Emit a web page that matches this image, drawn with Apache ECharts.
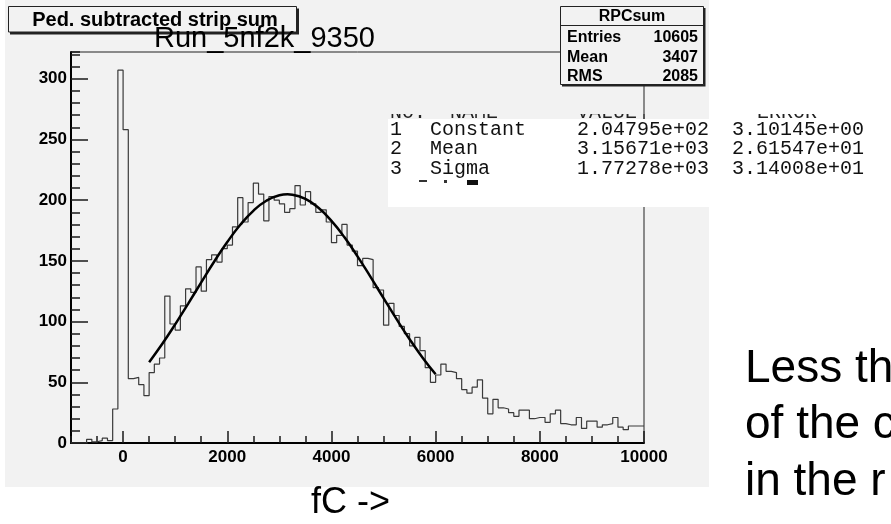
<!DOCTYPE html>
<html><head><meta charset="utf-8">
<script src="https://cdn.jsdelivr.net/npm/echarts@6/dist/echarts.min.js"></script>
<style>html,body{margin:0;padding:0;background:#fff}#c{width:891px;height:524px}</style>
</head><body><div id="c"></div>
<script>
// ---- data ----
const binStart = -1000;
const binWidth = 100;
const counts = [
  0, 0, 0, 3, 1, 2, 4, 2, 28, 307,
  258, 53, 54, 48, 39, 58, 65, 70, 121, 98,
  93, 113, 127, 124, 145, 125, 151, 155, 149, 160,
  163, 178, 202, 182, 198, 214, 205, 183, 203, 200,
  197, 190, 193, 212, 196, 207, 197, 190, 192, 182,
  165, 171, 180, 163, 158, 146, 152, 151, 128, 126,
  97, 115, 105, 96, 90, 80, 87, 76, 62, 50,
  56, 65, 59, 58, 53, 44, 41, 46, 52, 37,
  24, 36, 29, 28, 25, 22, 27, 27, 20, 21,
  21, 17, 24, 27, 16, 15, 15, 21, 12, 18,
  18, 13, 15, 16, 21, 13, 11, 14, 14, 14
];
const fitX = [500, 750, 1000, 1250, 1500, 1750, 2000, 2250, 2500, 2750, 3000, 3157, 3250, 3500, 3750, 4000, 4250, 4500, 4750, 5000, 5250, 5500, 5750, 6000];
const fitY = [66.6, 81.5, 97.7, 114.8, 132.3, 149.5, 165.5, 179.7, 191.2, 199.5, 204.0, 204.8, 204.5, 201.0, 193.7, 182.9, 169.4, 153.7, 136.8, 119.3, 102.0, 85.5, 70.3, 56.6];
const xTickValues = [0, 2000, 4000, 6000, 8000, 10000];
const yTickValues = [0, 50, 100, 150, 200, 250, 300];
const xRange = [-1000, 10000];
const yRange = [0, 322];
const histTitle = 'Ped. subtracted strip sum';
const runTitle = 'Run_5nf2k_9350';
const statsName = 'RPCsum';
const statsLabels = ['Entries', 'Mean', 'RMS'];
const statsValues = ['10605', '3407', '2085'];
const fitParNo = ['1', '2', '3'];
const fitParName = ['Constant', 'Mean', 'Sigma'];
const fitParValue = ['2.04795e+02', '3.15671e+03', '1.77278e+03'];
const fitParError = ['3.10145e+00', '2.61547e+01', '3.14008e+01'];
const fitHeader = ['NO.', 'NAME', 'VALUE', 'ERROR'];
const xAxisTitle = 'fC ->';
const sideText = ['Less th', 'of the c', 'in the r'];

// ---- build ----
const histData = counts.map((c, i) => [binStart + i * binWidth, c]);
histData.push([binStart + counts.length * binWidth, counts[counts.length - 1]]);
const fitData = fitX.map((x, i) => [x, fitY[i]]);

const SANS = 'Liberation Sans, Arial, sans-serif';
const MONO = 'Liberation Mono, DejaVu Sans Mono, monospace';
const PAD = '#f2f2f2';
const tickStyle = { color: '#1a1a1a', width: 1.5 };
const plain = v => String(v);

const graphics = [];
// pad
graphics.push({ type: 'rect', z: -100, shape: { x: 5, y: 0, width: 704, height: 487 }, style: { fill: PAD } });
// title box
graphics.push({ type: 'rect', z: 50, shape: { x: 10, y: 8.5, width: 289, height: 26 }, style: { fill: '#222' } });
graphics.push({ type: 'rect', z: 51, shape: { x: 8.5, y: 6.5, width: 288, height: 25.5 }, style: { fill: PAD, stroke: '#222', lineWidth: 1 } });
graphics.push({ type: 'text', z: 52, style: { text: histTitle, x: 155, y: 20, font: 'bold 20px ' + SANS, fill: '#000', textAlign: 'center', textVerticalAlign: 'middle' } });
// run title
graphics.push({ type: 'text', z: 53, style: { text: runTitle, x: 154, y: 39, font: '29px ' + SANS, fill: '#000', textAlign: 'left', textVerticalAlign: 'middle' } });
// stats box
graphics.push({ type: 'rect', z: 50, shape: { x: 562, y: 8, width: 143.5, height: 78.5 }, style: { fill: '#222' } });
graphics.push({ type: 'rect', z: 51, shape: { x: 560.5, y: 6.5, width: 143, height: 78 }, style: { fill: PAD, stroke: '#222', lineWidth: 1 } });
graphics.push({ type: 'line', z: 52, shape: { x1: 560.5, y1: 25.5, x2: 703.5, y2: 25.5 }, style: { stroke: '#222', lineWidth: 1 } });
graphics.push({ type: 'text', z: 53, style: { text: statsName, x: 632, y: 17, font: 'bold 16px ' + SANS, fill: '#000', textAlign: 'center', textVerticalAlign: 'middle' } });
const statsY = [37.5, 57.5, 76.7];
statsLabels.forEach((s, i) => {
  graphics.push({ type: 'text', z: 53, style: { text: s, x: 567, y: statsY[i], font: 'bold 16px ' + SANS, fill: '#000', textAlign: 'left', textVerticalAlign: 'middle' } });
  graphics.push({ type: 'text', z: 53, style: { text: statsValues[i], x: 698, y: statsY[i], font: 'bold 16px ' + SANS, fill: '#000', textAlign: 'right', textVerticalAlign: 'middle' } });
});
// fit parameter panel (header row mostly hidden, only its lower edge shows)
const colX = [390, 450, 577, 757];
fitHeader.forEach((s, i) => {
  graphics.push({ type: 'text', z: 60, style: { text: s, x: colX[i], y: 113, font: '20px ' + MONO, fill: '#222', textAlign: 'left', textVerticalAlign: 'middle' } });
});
graphics.push({ type: 'rect', z: 61, shape: { x: 380, y: 90, width: 329, height: 24 }, style: { fill: PAD } });
graphics.push({ type: 'rect', z: 61, shape: { x: 709, y: 90, width: 182, height: 24 }, style: { fill: '#fff' } });
graphics.push({ type: 'line', z: 62, shape: { x1: 644, y1: 90, x2: 644, y2: 119 }, style: { stroke: '#222', lineWidth: 1 } });
graphics.push({ type: 'rect', z: 63, shape: { x: 388, y: 119, width: 503, height: 88 }, style: { fill: '#fff' } });
const rowY = [129.5, 149, 168.5];
const parCols = [390, 430, 577, 732];
fitParNo.forEach((n, i) => {
  const row = [n, fitParName[i], fitParValue[i], fitParError[i]];
  row.forEach((s, j) => {
    graphics.push({ type: 'text', z: 64, style: { text: s, x: parCols[j], y: rowY[i], font: '20px ' + MONO, fill: '#111', textAlign: 'left', textVerticalAlign: 'middle' } });
  });
});
graphics.push({ type: 'rect', z: 64, shape: { x: 419, y: 180, width: 8, height: 2 }, style: { fill: '#333' } });
graphics.push({ type: 'rect', z: 64, shape: { x: 444, y: 180, width: 3, height: 3 }, style: { fill: '#333' } });
graphics.push({ type: 'rect', z: 64, shape: { x: 467, y: 180, width: 11, height: 5 }, style: { fill: '#111' } });
// axis title
graphics.push({ type: 'text', z: 53, style: { text: xAxisTitle, x: 311, y: 503, font: '36px ' + SANS, fill: '#000', textAlign: 'left', textVerticalAlign: 'middle' } });
// side text
const sideY = [369, 425.5, 482];
sideText.forEach((s, i) => {
  graphics.push({ type: 'text', z: 53, style: { text: s, x: 745, y: sideY[i], font: '46px ' + SANS, fill: '#000', textAlign: 'left', textVerticalAlign: 'middle' } });
});

const chart = echarts.init(document.getElementById('c'), null, { renderer: 'canvas' });
chart.setOption({
  animation: false,
  backgroundColor: '#fff',
  grid: { left: 71, right: 247, top: 52, bottom: 81, show: true, backgroundColor: PAD, borderColor: '#222', borderWidth: 1 },
  xAxis: [
    {
      type: 'value', min: xRange[0], max: xRange[1], interval: 500,
      axisLine: { show: true, onZero: false, lineStyle: { color: '#000', width: 2 } },
      axisTick: { show: true, inside: true, length: 7, lineStyle: tickStyle },
      axisLabel: { show: true, customValues: xTickValues, formatter: plain, fontFamily: SANS, fontWeight: 'bold', fontSize: 17, color: '#000', margin: 6 },
      splitLine: { show: false }
    },
    {
      type: 'value', position: 'bottom', min: xRange[0], max: xRange[1],
      axisLine: { show: false, onZero: false },
      axisTick: { show: true, inside: true, length: 12, customValues: xTickValues, lineStyle: tickStyle },
      axisLabel: { show: false },
      splitLine: { show: false }
    }
  ],
  yAxis: [
    {
      type: 'value', min: yRange[0], max: yRange[1], interval: 50,
      axisLine: { show: true, onZero: false, lineStyle: { color: '#000', width: 2 } },
      axisTick: { show: true, inside: true, length: 17, customValues: yTickValues, lineStyle: tickStyle },
      axisLabel: { show: true, customValues: yTickValues, formatter: plain, fontFamily: SANS, fontWeight: 'bold', fontSize: 17, color: '#000', margin: 4 },
      splitLine: { show: false }
    },
    {
      type: 'value', position: 'left', min: yRange[0], max: yRange[1], interval: 10,
      axisLine: { show: false, onZero: false },
      axisTick: { show: true, inside: true, length: 9, lineStyle: tickStyle },
      axisLabel: { show: false },
      splitLine: { show: false }
    }
  ],
  series: [
    {
      type: 'line', step: 'end', data: histData, symbol: 'none', xAxisIndex: 0, yAxisIndex: 0,
      lineStyle: { color: '#3a3a3a', width: 1.2 }, silent: true, z: 3
    },
    {
      type: 'line', smooth: true, data: fitData, symbol: 'none', xAxisIndex: 0, yAxisIndex: 0,
      lineStyle: { color: '#000', width: 2.5 }, silent: true, z: 4
    }
  ],
  graphic: { elements: graphics }
});
</script></body></html>
